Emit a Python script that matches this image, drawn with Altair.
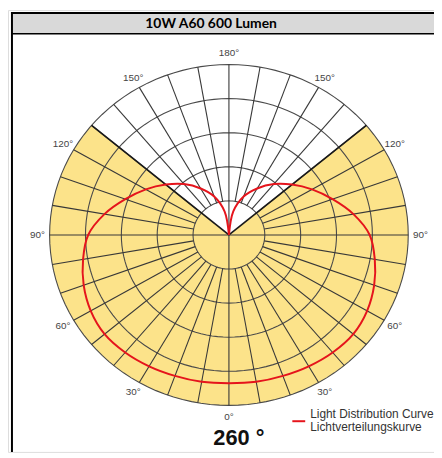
import altair as alt
import numpy as np
import pandas as pd

# ---- data ----
title_text = "10W A60 600 Lumen"
beam_text = "260 °"
legend_lines = ["Light Distribution Curve", "Lichtverteilungskurve"]

# polar angle (0 = straight down, 180 = straight up) and relative intensity
curve_angles = [0, 10, 20, 30, 40, 50, 60, 70, 80, 90, 100, 110, 120, 130, 140, 150, 160, 170, 180]
curve_r = [0.87, 0.875, 0.88, 0.89, 0.90, 0.905, 0.89, 0.862, 0.826, 0.785, 0.705, 0.615, 0.535, 0.46, 0.39, 0.315, 0.24, 0.14, 0.0]

ring_radii = [0.2, 0.4, 0.6, 0.8, 1.0]
spoke_angles = list(range(0, 360, 10))
through_center = [0, 90, 180, 270]
beam_half = 130  # half of the 260 degree beam
label_angles = [0, 30, 60, 90, 120, 150, 180, -30, -60, -90, -120, -150]

# ---- layout ----
W, H = 430, 446
cx, cy = 223, 227          # centre of the polar grid in view pixels
rx, ry = 181, 172          # outer ring radii in pixels
xs = alt.Scale(domain=[-cx / rx, (W - cx) / rx], nice=False, zero=False)
ys = alt.Scale(domain=[-(H - cy) / ry, cy / ry], nice=False, zero=False)

def X(f="x"):
    return alt.X(f"{f}:Q", scale=xs, axis=None)

def Y(f="y"):
    return alt.Y(f"{f}:Q", scale=ys, axis=None)

deg = "PI/180"

# yellow beam sector
arc_a = list(range(-beam_half, beam_half + 1, 2))
sector = pd.DataFrame({"a": [0] + arc_a + [0], "r": [0] + [1] * len(arc_a) + [0]})
sector["i"] = range(len(sector))
sector_layer = alt.Chart(sector).transform_calculate(
    x=f"datum.r*sin(datum.a*{deg})", y=f"-datum.r*cos(datum.a*{deg})"
).mark_line(fill="#fce38a", strokeOpacity=0).encode(x=X(), y=Y(), order="i:Q")

# rings
rings = pd.DataFrame([(r, a) for r in ring_radii for a in range(0, 361, 3)], columns=["r", "a"])
ring_layer = alt.Chart(rings).transform_calculate(
    x=f"datum.r*sin(datum.a*{deg})", y=f"-datum.r*cos(datum.a*{deg})"
).mark_line(stroke="#4a4a4a", strokeWidth=1.1).encode(x=X(), y=Y(), detail="r:N", order="a:Q")

# spokes
spokes = pd.DataFrame({"a": spoke_angles})
spokes["r0"] = [0.0 if a in through_center else 0.2 for a in spoke_angles]
spoke_layer = alt.Chart(spokes).transform_calculate(
    x=f"datum.r0*sin(datum.a*{deg})", y=f"-datum.r0*cos(datum.a*{deg})",
    x2=f"sin(datum.a*{deg})", y2=f"-cos(datum.a*{deg})"
).mark_rule(stroke="#383838", strokeWidth=1.1).encode(
    x=X(), y=Y(), x2="x2:Q", y2="y2:Q")

# beam edges
edges = pd.DataFrame({"a": [-beam_half, beam_half]})
edge_layer = alt.Chart(edges).transform_calculate(
    x="0", y="0", x2=f"sin(datum.a*{deg})", y2=f"-cos(datum.a*{deg})"
).mark_rule(stroke="#1a1a1a", strokeWidth=1.7).encode(
    x=X(), y=Y(), x2="x2:Q", y2="y2:Q")

# light distribution curve (mirrored left side)
full_a = [-a for a in curve_angles[::-1][:-1]] + curve_angles
full_r = curve_r[::-1][:-1] + curve_r
curve = pd.DataFrame({"a": full_a, "r": full_r})
curve["i"] = range(len(curve))
curve_layer = alt.Chart(curve).transform_calculate(
    x=f"datum.r*sin(datum.a*{deg})", y=f"-datum.r*cos(datum.a*{deg})"
).mark_line(color="#e5141c", strokeWidth=2, interpolate="catmull-rom").encode(
    x=X(), y=Y(), order="i:Q")

# angle labels
labels = pd.DataFrame({"a": label_angles, "t": [f"{abs(a)}°" for a in label_angles]})
label_layer = alt.Chart(labels).transform_calculate(
    x=f"1.068*sin(datum.a*{deg})", y=f"-1.066*cos(datum.a*{deg})"
).mark_text(font="Liberation Sans", fontSize=10, color="#444444").encode(
    x=X(), y=Y(), text="t:N")

one = pd.DataFrame({"k": [0]})

# frame and title band
band = alt.Chart(one).mark_rect(fill="#d9d9d9").encode(
    x=alt.value(4), x2=alt.value(W), y=alt.value(3), y2=alt.value(24))
frame_top = alt.Chart(one).mark_rule(color="#000000", strokeWidth=2).encode(
    x=alt.value(3), x2=alt.value(W), y=alt.value(3))
frame_mid = alt.Chart(one).mark_rule(color="#000000", strokeWidth=1.5).encode(
    x=alt.value(4), x2=alt.value(W), y=alt.value(24))
frame_left = alt.Chart(one).mark_rule(color="#000000", strokeWidth=2).encode(
    x=alt.value(4), y=alt.value(2), y2=alt.value(H))
title_layer = alt.Chart(pd.DataFrame({"t": [title_text]})).mark_text(
    font="Lato", fontSize=14, fontWeight="bold", color="#000000"
).encode(x=alt.value(205), y=alt.value(14), text="t:N")

# beam angle text
beam_layer = alt.Chart(pd.DataFrame({"t": [beam_text]})).mark_text(
    font="Liberation Sans", fontSize=22, fontWeight="bold", color="#111111"
).encode(x=alt.value(233), y=alt.value(432), text="t:N")

# legend
leg_line = alt.Chart(one).mark_rule(color="#e5141c", strokeWidth=2).encode(
    x=alt.value(287), x2=alt.value(300), y=alt.value(415))
leg_text1 = alt.Chart(pd.DataFrame({"t": [legend_lines[0]]})).mark_text(
    font="Liberation Sans", fontSize=12, color="#333333", align="left", baseline="middle"
).encode(x=alt.value(305), y=alt.value(408), text="t:N")
leg_text2 = alt.Chart(pd.DataFrame({"t": [legend_lines[1]]})).mark_text(
    font="Liberation Sans", fontSize=12, color="#333333", align="left", baseline="middle"
).encode(x=alt.value(305), y=alt.value(421), text="t:N")

chart = alt.layer(
    band, frame_top, frame_mid, frame_left, title_layer,
    sector_layer, ring_layer, spoke_layer, edge_layer, curve_layer,
    label_layer, beam_layer, leg_line, leg_text1, leg_text2
).properties(
    width=W, height=H, autosize=alt.AutoSizeParams(type="none"), padding=0
).configure_view(stroke=None).configure(background="white")

chart.save("out.html", embed_options={"renderer": "svg", "actions": False})
